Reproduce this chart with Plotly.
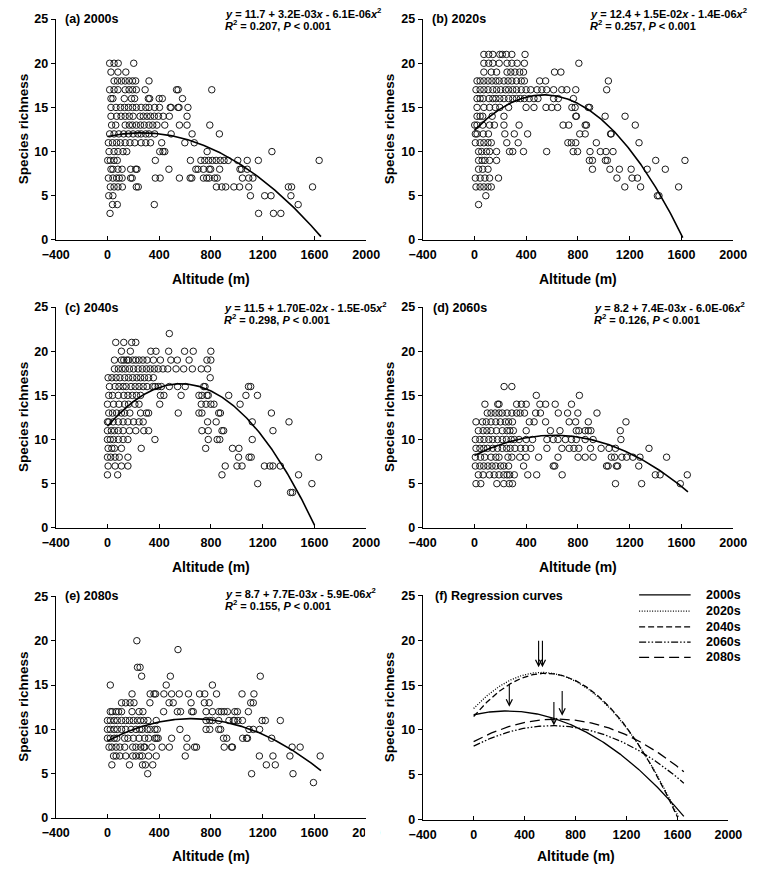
import numpy as np
import plotly.graph_objects as go

W, H = 761, 872

# ---------------- data ----------------
periods = ["2000s", "2020s", "2040s", "2060s", "2080s"]
panel_tags = ["(a)", "(b)", "(c)", "(d)", "(e)"]

# quadratic regression coefficients used for the drawn curves
coef_b0 = [11.7, 12.4, 11.5, 8.2, 8.7]
coef_b1 = [3.2e-3, 1.5e-2, 1.70e-2, 7.4e-3, 7.7e-3]
coef_b2 = [-6.1e-6, -1.4e-5, -1.5e-5, -6.0e-6, -5.9e-6]
curve_end = [1650, 1610, 1600, 1650, 1650]

eq_lines = [
    "<i>y</i> = 11.7 + 3.2E-03<i>x</i> - 6.1E-06<i>x</i><sup>2</sup>",
    "<i>y</i> = 12.4 + 1.5E-02<i>x</i> - 1.4E-06<i>x</i><sup>2</sup>",
    "<i>y</i> = 11.5 + 1.70E-02<i>x</i> - 1.5E-05<i>x</i><sup>2</sup>",
    "<i>y</i> = 8.2 + 7.4E-03<i>x</i> - 6.0E-06<i>x</i><sup>2</sup>",
    "<i>y</i> = 8.7 + 7.7E-03<i>x</i> - 5.9E-06<i>x</i><sup>2</sup>",
]
r2_values = ["0.207", "0.257", "0.298", "0.126", "0.155"]

# arrows marking curve maxima in panel (f)
arrow_alt = [280, 510, 540, 630, 695]
arrow_top = [15.3, 20.1, 20.1, 13.3, 14.5]
arrow_tip = [12.6, 17.0, 17.0, 10.5, 11.6]

x_ticks = [-400, 0, 400, 800, 1200, 1600, 2000]
y_ticks = [0, 5, 10, 15, 20, 25]

# species richness -> altitudes (m) of sites
sites_2000s = {
    20: [17, 51, 83, 203],
    19: [27, 81, 142],
    18: [51, 78, 108, 137, 167, 194, 218, 321],
    17: [17, 51, 81, 137, 167, 194, 223, 291, 534, 546, 806],
    16: [27, 42, 130, 186, 210, 316, 326, 400, 424, 580],
    15: [27, 66, 100, 132, 162, 194, 223, 260, 296, 321, 365, 402, 485, 492, 546, 553, 622],
    14: [27, 71, 105, 137, 169, 198, 252, 277, 306, 333, 362, 394, 431, 478, 615],
    13: [32, 64, 137, 169, 193, 223, 255, 284, 321, 350, 382, 443, 556, 615, 791],
    12: [17, 51, 88, 125, 162, 198, 235, 260, 296, 321, 365, 492, 654, 865],
    11: [7, 39, 71, 100, 137, 174, 211, 260, 296, 333, 419, 598, 671],
    10: [12, 51, 81, 120, 149, 404, 429, 443, 770, 1271],
    9: [2, 22, 51, 76, 370, 641, 722, 752, 781, 811, 840, 872, 901, 933, 1007, 1080, 1166, 1636],
    8: [27, 42, 81, 113, 179, 218, 228, 475, 683, 700, 742, 786, 798, 867, 1024, 1036, 1080],
    7: [7, 42, 71, 91, 113, 179, 191, 370, 407, 556, 639, 652, 742, 767, 786, 828, 848, 1043, 1092, 1124],
    6: [22, 51, 81, 115, 223, 238, 842, 884, 914, 977, 1021, 1092, 1398, 1423, 1585],
    5: [10, 42, 1105, 1215, 1264, 1418],
    4: [39, 76, 362, 1474],
    3: [20, 1168, 1283, 1340],
}
sites_2020s = {
    21: [73, 110, 142, 196, 215, 247, 289, 391],
    20: [73, 110, 142, 191, 252, 289, 330, 386, 807],
    19: [73, 130, 171, 252, 281, 313, 350, 379, 619, 668],
    18: [20, 44, 73, 105, 135, 166, 191, 228, 260, 289, 325, 362, 386, 504, 550, 1035],
    17: [12, 44, 73, 105, 142, 171, 203, 240, 264, 296, 325, 362, 399, 435, 484, 521, 558, 612, 675, 714, 783, 1022],
    16: [20, 44, 68, 112, 142, 166, 196, 228, 264, 296, 325, 355, 386, 423, 460, 491, 612, 648, 765],
    15: [20, 73, 117, 161, 196, 264, 399, 460, 553, 597, 643, 753, 778, 880, 890],
    14: [20, 44, 64, 137, 228, 783, 788, 1010, 1164],
    13: [2, 20, 64, 117, 154, 228, 345, 685, 729, 856, 866, 1243],
    12: [7, 20, 68, 108, 235, 308, 411, 814, 856, 1052, 1057],
    11: [7, 44, 73, 105, 130, 250, 338, 722, 749, 783, 942, 1272],
    10: [32, 56, 93, 117, 171, 271, 296, 379, 558, 763, 797, 893, 973, 1017, 1071],
    9: [32, 59, 81, 117, 171, 888, 912, 1012, 1027, 1401, 1627],
    8: [32, 64, 105, 912, 1047, 1120, 1211, 1335, 1475],
    7: [7, 44, 81, 117, 186, 1101, 1218, 1260],
    6: [12, 44, 73, 105, 130, 1162, 1284, 1578],
    5: [88, 1414, 1426],
    4: [32],
}
sites_2040s = {
    22: [478],
    21: [64, 126, 187, 219],
    20: [108, 177, 335, 375, 473, 596, 663, 799],
    19: [54, 108, 126, 150, 163, 195, 219, 244, 274, 306, 355, 409, 490, 540, 631, 769, 799],
    18: [54, 84, 113, 138, 170, 202, 237, 269, 301, 330, 362, 392, 429, 466, 530, 589, 656, 725, 774],
    17: [5, 34, 67, 96, 133, 163, 195, 227, 256, 286, 318, 355, 794],
    16: [15, 59, 89, 121, 145, 182, 214, 244, 276, 306, 350, 367, 392, 417, 478, 542, 601, 744, 754, 1090, 1107],
    15: [10, 39, 84, 126, 158, 192, 224, 256, 409, 436, 569, 707, 730, 769, 779, 937, 1070, 1159],
    14: [0, 47, 89, 133, 163, 212, 244, 404, 725, 762, 799, 823, 1025],
    13: [10, 39, 71, 108, 133, 173, 256, 301, 318, 547, 707, 730, 860, 873, 1267],
    12: [0, 10, 44, 84, 121, 158, 202, 244, 276, 774, 840, 1119, 1403],
    11: [0, 30, 54, 84, 121, 170, 219, 281, 318, 730, 779, 885, 898, 1279],
    10: [0, 22, 47, 84, 121, 158, 367, 779, 848, 868, 1119],
    9: [5, 34, 54, 108, 261, 759, 966, 1016],
    8: [0, 25, 59, 91, 158, 1013, 1094, 1111, 1632],
    7: [5, 59, 108, 158, 910, 1001, 1040, 1213, 1255, 1279, 1336],
    6: [0, 79, 885, 1477],
    5: [1161, 1580],
    4: [1415, 1430],
}
sites_2060s = {
    16: [229, 289],
    15: [478, 811],
    14: [81, 180, 190, 326, 363, 400, 506, 550, 624, 750],
    13: [99, 128, 160, 190, 215, 252, 289, 326, 353, 387, 473, 510, 648, 720, 799, 947],
    12: [12, 62, 91, 128, 165, 200, 239, 264, 294, 424, 461, 550, 732, 782, 880, 1171],
    11: [30, 67, 96, 128, 170, 215, 252, 274, 301, 400, 587, 661, 787, 807, 856, 880, 900, 1127],
    10: [7, 42, 74, 111, 141, 178, 215, 247, 284, 308, 345, 400, 449, 560, 609, 646, 703, 750, 787, 856, 917, 1132],
    9: [12, 42, 72, 101, 141, 178, 215, 249, 276, 313, 357, 394, 436, 560, 676, 732, 769, 806, 897, 979, 1040, 1090, 1349],
    8: [7, 47, 79, 128, 165, 190, 259, 289, 350, 400, 496, 646, 801, 856, 917, 1058, 1083, 1139, 1176, 1225, 1279, 1485],
    7: [7, 42, 72, 104, 136, 165, 202, 227, 264, 380, 609, 621, 1021, 1033, 1097, 1107, 1270],
    6: [30, 67, 116, 153, 190, 227, 252, 272, 308, 412, 481, 678, 1398, 1435, 1645],
    5: [12, 49, 173, 227, 269, 294, 1090, 1292, 1591],
}
sites_2080s = {
    20: [227],
    19: [545],
    17: [232, 252],
    16: [264, 486, 1181],
    15: [22, 454, 811],
    14: [190, 330, 360, 372, 436, 496, 555, 626, 712, 752, 843, 1040, 1132],
    13: [109, 141, 175, 205, 328, 476, 508, 646, 749, 786, 1107, 1127],
    12: [22, 37, 67, 86, 109, 190, 244, 274, 434, 540, 565, 651, 663, 762, 811, 860, 880, 902, 927, 984, 1004, 1089],
    11: [0, 22, 52, 76, 109, 141, 170, 200, 232, 256, 281, 313, 377, 762, 791, 811, 860, 939, 973, 983, 1008, 1043, 1195, 1220, 1336],
    10: [0, 22, 52, 76, 109, 141, 182, 220, 249, 269, 308, 330, 367, 385, 560, 762, 791, 860, 875, 1094, 1127, 1176],
    9: [0, 22, 52, 72, 133, 158, 200, 244, 288, 318, 367, 380, 392, 496, 614, 897, 922, 1045, 1075, 1082, 1269],
    8: [12, 34, 67, 96, 133, 195, 220, 257, 281, 288, 343, 422, 478, 614, 673, 688, 902, 959, 966, 1427, 1489],
    7: [47, 67, 96, 141, 195, 220, 249, 269, 318, 377, 601, 1174, 1279, 1410, 1644],
    6: [34, 170, 271, 293, 350, 1228, 1297],
    5: [311, 1114, 1434],
    4: [1592],
}
all_sites = [sites_2000s, sites_2020s, sites_2040s, sites_2060s, sites_2080s]

# ---------------- layout geometry (pixels) ----------------
def PX(x):
    return x / W

def PY(y):
    return 1 - y / H

col_x = [(43.3, 365.7), (424.3, 746.7)]
row_y = [(12.3, 236.7), (305.0, 529.3), (599.0, 824.3)]
f_x = (424.3, 741.7)
f_y = (598.0, 826.0)

FONT = "Liberation Sans, Arial, sans-serif"
tickfont = dict(family=FONT, size=12.5, color="black", weight="bold")

fig = go.Figure()
layout = dict(
    width=W, height=H, margin=dict(l=0, r=0, t=0, b=0),
    paper_bgcolor="white", plot_bgcolor="white", showlegend=False,
)
annotations = []
shapes = []

panel_boxes = []
for i in range(5):
    r, c = divmod(i, 2)
    panel_boxes.append((col_x[c], row_y[r]))
panel_boxes.append((f_x, f_y))

for k, ((x0, x1), (y0, y1)) in enumerate(panel_boxes):
    n = k + 1
    sfx = "" if n == 1 else str(n)
    layout["xaxis" + sfx] = dict(
        domain=[PX(x0), PX(x1)], range=[-400, 2000], anchor="y" + sfx,
        tickvals=x_ticks, ticks="inside", ticklen=4, tickcolor="black",
        showline=True, linecolor="black", linewidth=1, showgrid=False,
        zeroline=False, tickfont=tickfont, ticklabelstandoff=3, fixedrange=True,
    )
    layout["yaxis" + sfx] = dict(
        domain=[PY(y1), PY(y0)], range=[0, 25], anchor="x" + sfx,
        tickvals=y_ticks, ticks="outside", ticklen=4, tickcolor="black",
        showline=True, linecolor="black", linewidth=1, showgrid=False,
        zeroline=False, tickfont=tickfont, fixedrange=True,
    )
    cx = (x0 + x1) / 2
    annotations.append(dict(
        text="Altitude (m)", xref="paper", yref="paper", x=PX(cx),
        y=PY(min(y1 + 39.5, 862.5)),
        showarrow=False, xanchor="center", yanchor="middle",
        font=dict(family=FONT, size=14, color="black", weight="bold"),
    ))
    annotations.append(dict(
        text="Species richness", xref="paper", yref="paper",
        x=PX(10 if x0 < 200 else 390), y=PY((y0 + y1) / 2), textangle=-90,
        showarrow=False, xanchor="center", yanchor="middle",
        font=dict(family=FONT, size=13.5, color="black", weight="bold"),
    ))

label_pos = [(50.7, 12.3), (431.7, 12.3), (50.7, 305.7), (433.3, 305.7), (50.7, 598.3)]
eq_pos = [(218.3, 6.6, 18.6), (597.3, 6.6, 18.6), (217.3, 304.6, 316.6),
          (600.7, 304.6, 316.6), (218.3, 595.6, 607.6)]

for i in range(5):
    n = i + 1
    sfx = "" if n == 1 else str(n)
    sites = all_sites[i]
    xs, ys = [], []
    for rich, alts in sites.items():
        xs.extend(alts)
        ys.extend([rich] * len(alts))
    fig.add_trace(go.Scatter(
        x=xs, y=ys, mode="markers", xaxis="x" + sfx, yaxis="y" + sfx,
        marker=dict(symbol="circle-open", size=6.5, color="#1a1a1a", line=dict(width=1)),
        hoverinfo="skip",
    ))
    cxs = np.linspace(0, curve_end[i], 200)
    cys = coef_b0[i] + coef_b1[i] * cxs + coef_b2[i] * cxs ** 2
    fig.add_trace(go.Scatter(
        x=cxs, y=cys, mode="lines", xaxis="x" + sfx, yaxis="y" + sfx,
        line=dict(color="black", width=1.6), hoverinfo="skip",
    ))
    lx, ly = label_pos[i]
    annotations.append(dict(
        text=f"{panel_tags[i]} {periods[i]}", xref="paper", yref="paper",
        x=PX(lx), y=PY(ly), showarrow=False, xanchor="left", yanchor="middle",
        font=dict(family=FONT, size=12.5, color="black", weight="bold"),
    ))
    ex, ey1, ey2 = eq_pos[i]
    annotations.append(dict(
        text=eq_lines[i], xref="paper", yref="paper", x=PX(ex - 1), y=PY(ey1),
        showarrow=False, xanchor="left", yanchor="middle",
        font=dict(family=FONT, size=11, color="black", weight="bold"),
    ))
    annotations.append(dict(
        text=f"<i>R</i><sup>2</sup> = {r2_values[i]}, <i>P</i> &lt; 0.001",
        xref="paper", yref="paper", x=PX(ex - 1), y=PY(ey2),
        showarrow=False, xanchor="left", yanchor="middle",
        font=dict(family=FONT, size=11, color="black", weight="bold"),
    ))

# ---------------- panel (f) ----------------
dash_styles = ["solid", "1px,1.6px", "6px,3px", "7px,2px,1.5px,2px,1.5px,2px", "10px,5px"]
for i in range(5):
    cxs = np.linspace(0, curve_end[i], 200)
    cys = coef_b0[i] + coef_b1[i] * cxs + coef_b2[i] * cxs ** 2
    fig.add_trace(go.Scatter(
        x=cxs, y=cys, mode="lines", xaxis="x6", yaxis="y6",
        line=dict(color="black", width=1.3, dash=dash_styles[i]), hoverinfo="skip",
    ))
    annotations.append(dict(
        x=arrow_alt[i], y=arrow_tip[i], ax=arrow_alt[i], ay=arrow_top[i],
        xref="x6", yref="y6", axref="x6", ayref="y6", text="",
        showarrow=True, arrowhead=5, arrowsize=1.1, arrowwidth=1.1, arrowcolor="black",
        standoff=0, startstandoff=0,
    ))

annotations.append(dict(
    text="(f) Regression curves", xref="paper", yref="paper", x=PX(435), y=PY(599),
    showarrow=False, xanchor="left", yanchor="middle",
    font=dict(family=FONT, size=12.5, color="black", weight="bold"),
))

legend_rows = [597.5, 614.0, 630.0, 645.5, 661.0]
for i in range(5):
    yy = PY(legend_rows[i])
    shapes.append(dict(
        type="line", xref="paper", yref="paper", x0=PX(649), x1=PX(702.5), y0=yy, y1=yy,
        line=dict(color="black", width=1.3, dash=dash_styles[i]),
    ))
    annotations.append(dict(
        text=periods[i], xref="paper", yref="paper", x=PX(716), y=yy,
        showarrow=False, xanchor="left", yanchor="middle",
        font=dict(family=FONT, size=12.5, color="black", weight="bold"),
    ))

# the last tick label of panel (e) is cut off in the original
shapes.append(dict(
    type="rect", xref="paper", yref="paper", x0=PX(364.5), x1=PX(380), y0=PY(850), y1=PY(829),
    fillcolor="white", line=dict(width=0), layer="above",
))

layout["annotations"] = annotations
layout["shapes"] = shapes
fig.update_layout(**layout)
fig.write_html(
    "out.html",
    config={"displayModeBar": False},
    post_script="document.body.style.margin='0px';document.body.style.overflow='hidden';",
)
